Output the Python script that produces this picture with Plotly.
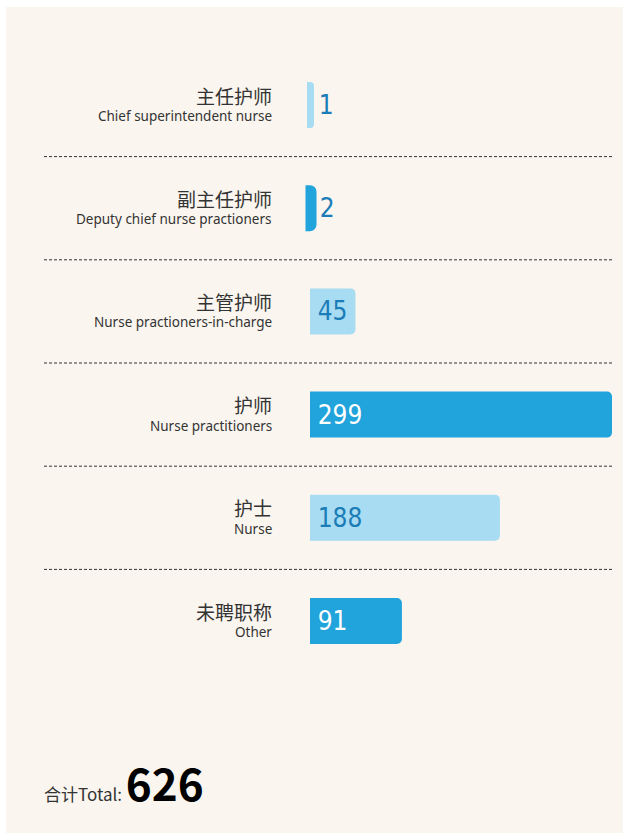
import plotly.graph_objects as go

# 护理人员职称构成
labels_cn = ["主任护师", "副主任护师", "主管护师", "护师", "护士", "未聘职称"]
labels_en = ["Chief superintendent nurse", "Deputy chief nurse practioners",
             "Nurse practioners-in-charge", "Nurse practitioners", "Nurse", "Other"]
counts = [1, 2, 45, 299, 188, 91]

W, H = 623, 833
light, dark = "#a8dcf2", "#21a3dc"
num_blue = "#1b7db8"

rows = list(range(len(counts)))
bar_colors = [light if i % 2 == 0 else dark for i in rows]
text_colors = [num_blue if i % 2 == 0 else "white" for i in rows]

# pixel layout helpers
x0_px, xmax_px = 310, 612
px_x = (xmax_px - x0_px) / max(counts)
row_top, row_step = 105, 103.2
bar_px = 46

# thin bars get a stroke so they stay visible
strokes = [6 if c < 3 else 0 for c in counts]
strokes[1] = 9
widths = [(bar_px - s) / row_step for s in strokes]

num_font = dict(family="DejaVu Sans Condensed, Noto Sans Condensed, Roboto Condensed, Liberation Sans Narrow, Roboto",
                size=26, weight=300)

fig = go.Figure()
fig.add_trace(go.Bar(
    x=counts, y=rows, orientation="h",
    width=widths,
    marker=dict(color=bar_colors, line=dict(color=bar_colors, width=strokes), cornerradius=5),
    text=["\u2009%d" % c for c in counts],
    textposition="auto", insidetextanchor="start", textangle=0,
    insidetextfont=dict(num_font, color=text_colors),
    outsidetextfont=dict(num_font, color=num_blue),
    cliponaxis=False, hoverinfo="skip",
))

# beige panel
fig.add_shape(type="rect", xref="paper", yref="paper", x0=6 / W, x1=1, y0=0, y1=1 - 7 / H,
              fillcolor="#faf5ef", line_width=0, layer="below")

# dotted separators
for i in rows[:-1]:
    fig.add_shape(type="line", xref="paper", yref="y", x0=44 / W, x1=612 / W, y0=i + 0.5, y1=i + 0.5,
                  line=dict(color="#333333", width=1, dash="3px,2px"))

for i in rows:
    fig.add_annotation(x=274 / W, xref="paper", y=i, yref="y", text=labels_cn[i], showarrow=False,
                       xanchor="right", yanchor="middle", yshift=10,
                       font=dict(family="Noto Sans CJK SC", size=19, color="#333333"))
    fig.add_annotation(x=274 / W, xref="paper", y=i, yref="y", text=labels_en[i], showarrow=False,
                       xanchor="right", yanchor="middle", yshift=-11,
                       font=dict(family="Noto Sans", size=13.5, color="#333333"))

fig.add_annotation(x=42 / W, xref="paper", y=1 - 782 / H, yref="paper", showarrow=False,
                   xanchor="left", yanchor="middle",
                   text="合计Total: <b><span style='font-size:44px;color:#000'>%d</span></b>" % sum(counts),
                   font=dict(family="Noto Sans CJK SC", size=17, color="#333333"))

fig.update_layout(
    width=W, height=H, margin=dict(l=0, r=0, t=0, b=0),
    paper_bgcolor="white", plot_bgcolor="rgba(0,0,0,0)", showlegend=False,
    xaxis=dict(range=[-x0_px / px_x, (W - x0_px) / px_x], visible=False, fixedrange=True),
    yaxis=dict(range=[(H - row_top) / row_step, -row_top / row_step], visible=False, fixedrange=True),
)

fig.write_html("out.html", config={"displayModeBar": False},
               post_script="document.body.style.margin='0px';")
